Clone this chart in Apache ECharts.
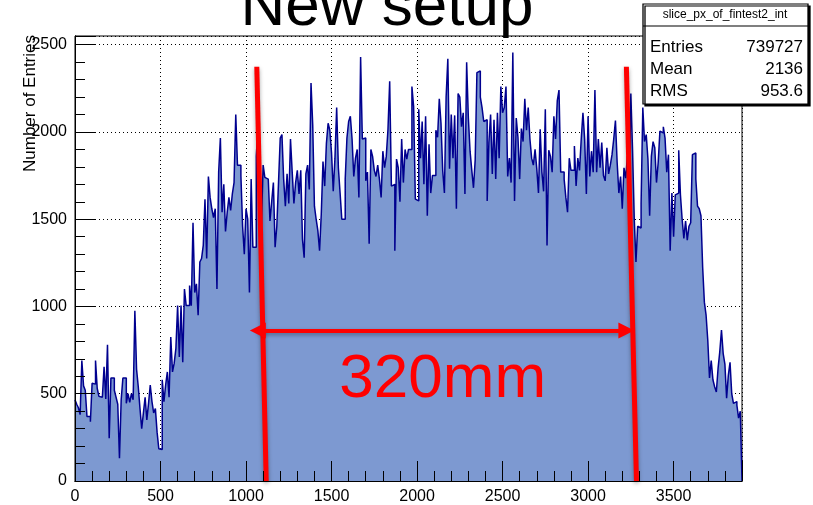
<!DOCTYPE html>
<html>
<head>
<meta charset="utf-8">
<script src="https://cdn.jsdelivr.net/npm/echarts@6/dist/echarts.min.js"></script>
<style>
html, body { margin: 0; padding: 0; background: #fff; }
#chart { width: 813px; height: 505px; }
</style>
</head>
<body>
<div id="chart"></div>
<script>
// histogram: 10 mm bins from 0 to 3900
const binWidth = 10
const seg0 = [465, 440, 420, 380, 690, 545, 520, 370, 370, 340, 560, 555, 690, 530, 485, 480, 480, 655, 470, 780,
    245, 590, 590, 520, 480, 440, 130, 465, 590, 590, 445, 500, 450, 500, 465, 975, 640]
const seg370 = [540, 415, 300, 390, 480, 350, 445, 550, 455, 390, 415, 280, 185, 180, 580, 455, 550, 625, 480, 825,
    625, 675, 760, 1005, 710, 1005, 680, 1100, 1005, 1005, 1120, 1005, 1480, 1080, 1130, 950, 1255, 1275]
const seg750 = [1350, 1615, 1275, 1745, 1625, 1560, 1510, 1560, 1100, 1770, 1965, 1540, 1700, 1430, 1540, 1625, 1550, 1645, 1710, 2100,
    1810, 1810, 1750, 1460, 1300, 1560, 1500, 1080, 1730, 1340, 1340, 1860, 2030, 1575, 1470, 1810, 1740, 1730]
const seg1130 = [1720, 1490, 1600, 1710, 1340, 1460, 1710, 1965, 1985, 1730, 1575, 1760, 1590, 1960, 1770, 1590, 1710, 1780, 1645, 1780,
    1385, 1280, 1760, 1810, 1670, 2280, 2040, 1575, 1500, 1435, 1320, 1530, 1830, 1690, 1935, 2050, 2010, 1880]
const seg1510 = [1660, 1850, 2140, 1795, 1650, 1500, 1500, 1730, 1965, 2060, 2090, 1960, 1745, 1850, 1900, 1625, 2430, 1960, 1965, 1720,
    1770, 1360, 1900, 1860, 1780, 1745, 1810, 1730, 1625, 1890, 1795, 1860, 2015, 2290, 1690, 1700, 1320, 1845]
const seg1890 = [1795, 1600, 1960, 1710, 1900, 1845, 1900, 1900, 2260, 2145, 1615, 1605, 2130, 1850, 2060, 1700, 2090, 1520, 1930, 1650,
    1750, 1750, 2010, 1970, 2190, 2050, 1780, 1650, 2200, 2420, 1790, 2100, 1850, 2095, 1560, 2220, 2200, 2030]
const seg2270 = [2110, 1645, 2400, 2080, 1890, 1780, 1680, 1840, 2340, 2350, 2200, 2140, 2060, 2070, 1605, 1940, 2100, 1760, 2070, 1730,
    2110, 1850, 2260, 2110, 2140, 2260, 1745, 1850, 1710, 2455, 1605, 2080, 1970, 1730, 2020, 1945, 2190, 2010]
const seg2650 = [2140, 1960, 1850, 1810, 1900, 1790, 1650, 2015, 1770, 1660, 2130, 1350, 1895, 1860, 1770, 2090, 1960, 2180, 2240, 1770,
    1770, 1730, 1625, 1540, 1850, 1780, 1780, 1920, 1690, 1850, 1780, 1960, 2110, 1960, 1645, 2090, 1745, 1890]
const seg3030 = [1770, 2240, 1770, 1960, 1795, 1940, 1750, 1720, 1910, 1760, 1810, 1870, 1960, 2065, 1825, 1650, 1745, 1560, 1795, 1735,
    1860, 1575, 2220, 1895, 1500, 1255, 1460, 1450, 1590, 2140, 1945, 1985, 1845, 1520, 1860, 1945, 1910, 1710]
const seg3410 = [1825, 2005, 1995, 2030, 1965, 1770, 1870, 1320, 1650, 1400, 1640, 1650, 1895, 1640, 1500, 1390, 1490, 1380, 1460, 1480,
    1870, 1880, 1730, 1575, 1560, 1520, 1225, 1025, 950, 805, 590, 690, 580, 540, 510, 645, 740, 865, 730, 670,
    475, 605, 680, 500, 445, 455, 435, 360, 400]
const counts = [].concat(seg0, seg370, seg750, seg1130, seg1510, seg1890, seg2270, seg2650, seg3030, seg3410)

const statNames = ['Entries', 'Mean', 'RMS']
const statValues = ['739727', '2136', '953.6']

// annotation: fiducial edges (x at top / bottom), arrow between them
const leftEdge = [[1063, 2374], [1118, 0]]
const rightEdge = [[3224, 2374], [3283, 0]]
const arrowSpan = [[1069, 862], [3224, 862]]
const widthLabel = { text: '320mm', at: [2150, 582] }

const font = '"Liberation Sans", Arial, Helvetica, sans-serif'
const red = '#ff0000'

const histData = counts.map((c, i) => [i * binWidth, c])
histData.push([counts.length * binWidth, 0])

const xMax = counts.length * binWidth
const yMax = 2550

// axes below the histogram: dotted grid + labels
const baseAxis = {
    type: 'value',
    interval: 500,
    z: 0,
    axisLine: { show: true, lineStyle: { color: '#000', width: 1 } },
    axisTick: { show: false },
    splitLine: { show: true, lineStyle: { color: '#000', type: [1, 3], width: 1 } },
    axisLabel: { color: '#000', fontSize: 16, fontFamily: font, showMaxLabel: false, formatter: v => String(v) }
}
// axes above the histogram: ticks only
const tickAxis = {
    type: 'value',
    interval: 500,
    z: 10,
    axisLine: { show: true, lineStyle: { color: '#000', width: 1 } },
    axisTick: { show: true, inside: true, length: 20, lineStyle: { color: '#000', width: 1 } },
    minorTick: { show: true, splitNumber: 5, length: 10, lineStyle: { color: '#000', width: 1 } },
    splitLine: { show: false },
    axisLabel: { show: false }
}

const shadow = { shadowBlur: 4, shadowColor: 'rgba(0,0,0,0.35)', shadowOffsetY: 2 }

// text placed by pixel position (title, axis title, stats box)
const textAt = (x, y, text, size, align, extra) => ({
    x, y,
    symbol: 'rect',
    symbolSize: 1,
    itemStyle: { color: 'rgba(0,0,0,0)' },
    label: Object.assign({
        show: true, position: 'inside', formatter: text, color: '#000',
        fontSize: size, fontFamily: font, align, verticalAlign: 'middle'
    }, extra || {})
})

const chart = echarts.init(document.getElementById('chart'))
chart.setOption({
    animation: false,
    grid: {
        left: 75,
        right: 71,
        top: 36,
        bottom: 22,
        show: true,
        borderColor: '#000',
        borderWidth: 1,
        backgroundColor: '#fff'
    },
    xAxis: [
        Object.assign({}, baseAxis, { min: 0, max: xMax }),
        Object.assign({}, tickAxis, { min: 0, max: xMax, position: 'bottom' })
    ],
    yAxis: [
        Object.assign({}, baseAxis, { min: 0, max: yMax }),
        Object.assign({}, tickAxis, { min: 0, max: yMax, position: 'left' })
    ],
    series: [
        {
            type: 'line',
            step: 'end',
            symbol: 'none',
            xAxisIndex: 0,
            yAxisIndex: 0,
            data: histData,
            lineStyle: { color: '#00008f', width: 1.5 },
            areaStyle: { color: '#7d99d1', opacity: 1, origin: 'start' },
            z: 2,
            markLine: {
                silent: true,
                animation: false,
                symbol: 'none',
                label: { show: false },
                lineStyle: Object.assign({ color: red, width: 5, type: 'solid' }, shadow),
                data: [
                    [{ coord: leftEdge[0] }, { coord: leftEdge[1] }],
                    [{ coord: rightEdge[0] }, { coord: rightEdge[1] }],
                    [
                        { coord: arrowSpan[0], symbol: 'triangle', symbolSize: [16, 16], lineStyle: { width: 4 } },
                        { coord: arrowSpan[1], symbol: 'triangle', symbolSize: [16, 16] }
                    ]
                ]
            },
            markPoint: {
                silent: true,
                animation: false,
                data: [
                    {
                        coord: widthLabel.at,
                        symbol: 'rect',
                        symbolSize: 1,
                        itemStyle: { color: 'rgba(0,0,0,0)' },
                        label: {
                            show: true, position: 'inside', formatter: widthLabel.text,
                            color: red, fontSize: 62, fontFamily: font
                        }
                    },
                    textAt(387, 8, 'New setup', 62, 'center'),
                    textAt(30, 35, 'Number of Entries', 17, 'right', { rotate: 90 }),
                    {
                        x: 725.5, y: 54,
                        symbol: 'rect',
                        symbolSize: [165, 100],
                        itemStyle: { color: '#fff', borderColor: '#000', borderWidth: 1, shadowColor: '#000', shadowOffsetX: 2, shadowOffsetY: 2 },
                        label: { show: false }
                    },
                    {
                        x: 725.5, y: 26,
                        symbol: 'rect',
                        symbolSize: [165, 1],
                        itemStyle: { color: '#000' },
                        label: { show: false }
                    },
                    textAt(725, 15, 'slice_px_of_fintest2_int', 12, 'center'),
                    ...statNames.map((n, i) => textAt(650, 47 + i * 22, n, 17, 'left')),
                    ...statValues.map((v, i) => textAt(803, 47 + i * 22, v, 17, 'right'))
                ]
            }
        }
    ]
})
</script>
</body>
</html>
